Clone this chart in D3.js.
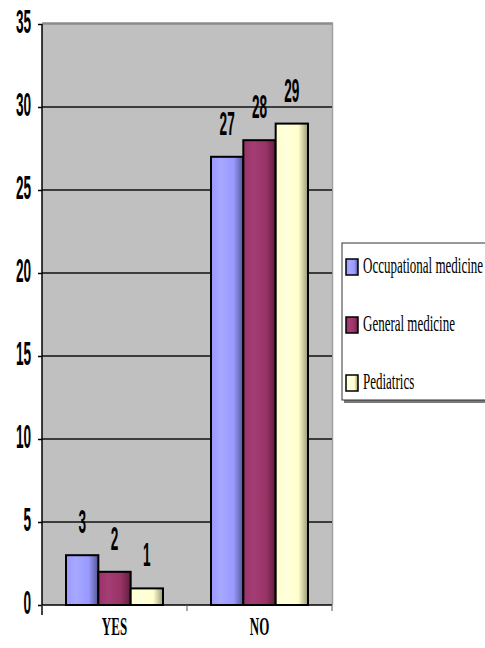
<!DOCTYPE html>
<html>
<head>
<meta charset="utf-8">
<script src="https://cdn.jsdelivr.net/npm/d3@7"></script>
<style>
  html, body { margin: 0; padding: 0; background: #fff; }
  svg { display: block; }
</style>
</head>
<body>
<svg id="chart" width="485" height="648"></svg>
<script>
// Answers per specialty
const categories = ["YES", "NO"];
const seriesNames = ["Occupational medicine", "General medicine", "Pediatrics"];
const occupational = [3, 27];
const general = [2, 28];
const pediatrics = [1, 29];
const yTicks = [0, 5, 10, 15, 20, 25, 30, 35];

const seriesValues = [occupational, general, pediatrics];
const colors = [
  { light: "#a8a8ff", mid: "#9999ff", dark: "#55558f" },
  { light: "#a53d75", mid: "#993366", dark: "#5e1f3f" },
  { light: "#ffffdc", mid: "#ffffcc", dark: "#9a9a78" }
];

const svg = d3.select("#chart");
const plot = { left: 42, right: 332, top: 24, bottom: 605 };

const x0 = d3.scaleBand().domain(categories).range([plot.left, plot.right]);
// the three bars sit together in the middle of each category band
const x1 = d3.scaleBand().domain(d3.range(seriesNames.length))
  .range([24, x0.bandwidth() - 24]);
const y = d3.scaleLinear().domain([0, 35]).range([plot.bottom, plot.top]);

// gradients for the shaded bars
const defs = svg.append("defs");
colors.forEach((c, i) => {
  const g = defs.append("linearGradient").attr("id", "grad" + i)
    .attr("x1", "0%").attr("x2", "100%").attr("y1", "0%").attr("y2", "0%");
  g.append("stop").attr("offset", "0%").attr("stop-color", c.mid);
  g.append("stop").attr("offset", "30%").attr("stop-color", c.light);
  g.append("stop").attr("offset", "70%").attr("stop-color", c.mid);
  g.append("stop").attr("offset", "100%").attr("stop-color", c.dark);
});

// plot background
svg.append("rect")
  .attr("x", plot.left).attr("y", plot.top)
  .attr("width", plot.right - plot.left).attr("height", plot.bottom - plot.top)
  .attr("fill", "#c0c0c0");
// frame: top and right edges
svg.append("line").attr("x1", plot.left).attr("x2", plot.right + 1)
  .attr("y1", plot.top - 0.5).attr("y2", plot.top - 0.5)
  .attr("stroke", "#8c8c8c").attr("stroke-width", 2.5);
svg.append("line").attr("x1", plot.right + 0.5).attr("x2", plot.right + 0.5)
  .attr("y1", plot.top - 1).attr("y2", plot.bottom)
  .attr("stroke", "#a0a0a0").attr("stroke-width", 1.5);

// horizontal gridlines
svg.append("g").selectAll("line").data(yTicks.filter(t => t > 0 && t < 35)).join("line")
  .attr("x1", plot.left).attr("x2", plot.right)
  .attr("y1", d => y(d)).attr("y2", d => y(d))
  .attr("stroke", "#111").attr("stroke-width", 1.5);

// bars
const groups = svg.append("g").selectAll("g").data(categories).join("g")
  .attr("transform", d => `translate(${x0(d)},0)`);
groups.selectAll("rect").data((d, ci) => seriesValues.map((s, si) => ({ si, v: s[ci] }))).join("rect")
  .attr("x", d => x1(d.si))
  .attr("y", d => y(d.v))
  .attr("width", x1.bandwidth())
  .attr("height", d => y(0) - y(d.v))
  .attr("fill", d => `url(#grad${d.si})`)
  .attr("stroke", "#000").attr("stroke-width", 2);

// value labels
const narrow = "'Liberation Sans', Arial, sans-serif";
groups.selectAll("text").data((d, ci) => seriesValues.map((s, si) => ({ si, v: s[ci] }))).join("text")
  .attr("transform", d => `translate(${x1(d.si) + x1.bandwidth() / 2},${y(d.v) - 22}) scale(0.68,1.65)`)
  .attr("text-anchor", "middle")
  .attr("font-family", narrow).attr("font-weight", "bold").attr("font-size", 20)
  .attr("fill", "#000")
  .text(d => d.v);

// y axis
const yAxis = svg.append("g").attr("transform", `translate(${plot.left},0)`)
  .call(d3.axisLeft(y).tickValues(yTicks).tickSize(4).tickPadding(7));
yAxis.select(".domain").attr("stroke", "#000").attr("stroke-width", 1.5).attr("d", `M0,${plot.top}V${plot.bottom + 10}`);
yAxis.selectAll(".tick line").attr("stroke", "#000").attr("stroke-width", 1.5);
yAxis.selectAll(".tick text")
  .attr("font-family", narrow).attr("font-weight", "bold").attr("font-size", 20)
  .attr("fill", "#000")
  .attr("x", null).attr("dy", null)
  .attr("transform", "translate(-11,8) scale(0.68,1.65)");

// x axis
const xAxis = svg.append("g").attr("transform", `translate(0,${plot.bottom})`)
  .call(d3.axisBottom(x0).tickSize(0).tickPadding(0));
xAxis.select(".domain").attr("stroke", "#000").attr("stroke-width", 1.5).attr("d", `M${plot.left},0H${plot.right}`);
xAxis.selectAll(".tick text")
  .attr("font-family", "'Liberation Serif', 'Times New Roman', serif")
  .attr("font-weight", "bold").attr("font-size", 13).attr("fill", "#000")
  .attr("y", null).attr("dy", null)
  .attr("transform", "translate(0,30) scale(1,1.9)");
// category separators
svg.append("g").selectAll("line").data([plot.left, x0("NO"), plot.right]).join("line")
  .attr("x1", d => d).attr("x2", d => d)
  .attr("y1", plot.bottom).attr("y2", plot.bottom + 6)
  .attr("stroke", "#555").attr("stroke-width", 1);

// legend
const legend = svg.append("g").attr("transform", "translate(342,243)");
legend.append("rect").attr("x", 2).attr("y", 2).attr("width", 150).attr("height", 158).attr("fill", "#7a7a7a");
legend.append("rect").attr("x", 0).attr("y", 0).attr("width", 150).attr("height", 157)
  .attr("fill", "#fff").attr("stroke", "#333").attr("stroke-width", 1);
const items = legend.selectAll("g.item").data(seriesNames).join("g").attr("class", "item")
  .attr("transform", (d, i) => `translate(4,${16 + i * 58})`);
items.append("rect").attr("width", 12).attr("height", 16)
  .attr("fill", (d, i) => `url(#grad${i})`).attr("stroke", "#000").attr("stroke-width", 1.5);
items.append("text")
  .attr("transform", "translate(17,14) scale(1,1.8)")
  .attr("font-family", "'Liberation Serif', 'Times New Roman', serif")
  .attr("font-size", 13).attr("fill", "#000")
  .text(d => d);
</script>
</body>
</html>
